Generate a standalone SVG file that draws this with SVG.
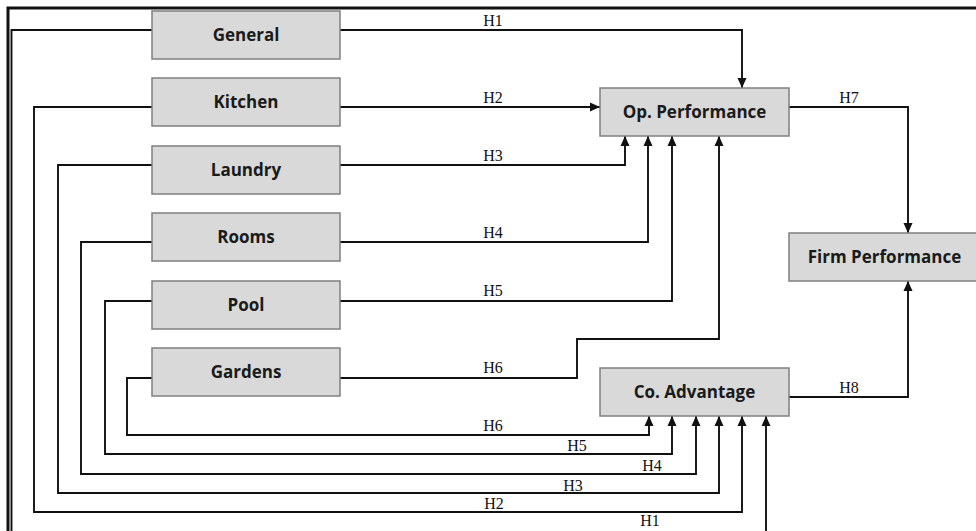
<svg xmlns="http://www.w3.org/2000/svg" width="976" height="531" viewBox="0 0 976 531">
<style>
.node rect{fill:#d9d9d9;stroke:#7f7f7f;stroke-width:1.5}
.node text{font-family:"Open Sans","Liberation Sans",sans-serif;font-weight:bold;font-size:17px;fill:#1a1a1a;text-anchor:middle}
.c{fill:none;stroke:#111;stroke-width:1.9}
.lbl{font-family:"Liberation Serif","Times New Roman",serif;font-size:16px;fill:#111;text-anchor:middle}
</style>
<defs>
<marker id="ah" markerUnits="userSpaceOnUse" markerWidth="11" markerHeight="11" refX="10" refY="5.5" orient="auto" viewBox="0 0 11 11">
<path d="M0,1 L10,5.5 L0,10 z" fill="#111"/>
</marker>
</defs>
<rect width="976" height="531" fill="#fff"/>
<g id="frame" fill="none" stroke="#111" stroke-width="3">
<path d="M8,531 V8 H976"/>
</g>
<g id="connectors">
<path class="c" d="M340,30 H742 V88" marker-end="url(#ah)"/>
<path class="c" d="M340,107 H600" marker-end="url(#ah)"/>
<path class="c" d="M340,165 H625 V136" marker-end="url(#ah)"/>
<path class="c" d="M340,242 H648 V136" marker-end="url(#ah)"/>
<path class="c" d="M340,301 H672 V136" marker-end="url(#ah)"/>
<path class="c" d="M340,378 H577 V339 H719 V136" marker-end="url(#ah)"/>
<path class="c" d="M789,107 H908 V233" marker-end="url(#ah)"/>
<path class="c" d="M789,397 H908 V281" marker-end="url(#ah)"/>
<path class="c" d="M152,30 H11.5 V540 H766 V416" marker-end="url(#ah)"/>
<path class="c" d="M152,107 H34 V512 H742 V416" marker-end="url(#ah)"/>
<path class="c" d="M152,165 H58 V493 H719 V416" marker-end="url(#ah)"/>
<path class="c" d="M152,242 H81 V474 H696 V416" marker-end="url(#ah)"/>
<path class="c" d="M152,301 H105 V454 H672 V416" marker-end="url(#ah)"/>
<path class="c" d="M152,378 H127 V435 H649 V416" marker-end="url(#ah)"/>
<text class="lbl" x="493" y="26">H1</text>
<text class="lbl" x="493" y="103">H2</text>
<text class="lbl" x="493" y="161">H3</text>
<text class="lbl" x="493" y="238">H4</text>
<text class="lbl" x="493" y="296">H5</text>
<text class="lbl" x="493" y="373">H6</text>
<text class="lbl" x="493" y="431">H6</text>
<text class="lbl" x="577" y="451">H5</text>
<text class="lbl" x="652" y="471">H4</text>
<text class="lbl" x="573" y="491">H3</text>
<text class="lbl" x="494" y="509">H2</text>
<text class="lbl" x="650" y="526">H1</text>
<text class="lbl" x="849" y="103">H7</text>
<text class="lbl" x="849" y="393">H8</text>
</g>
<g id="general" class="node"><rect x="152" y="11" width="188" height="48"/><text x="246" y="41">General</text></g>
<g id="kitchen" class="node"><rect x="152" y="78" width="188" height="48"/><text x="246" y="108">Kitchen</text></g>
<g id="laundry" class="node"><rect x="152" y="146" width="188" height="48"/><text x="246" y="176">Laundry</text></g>
<g id="rooms" class="node"><rect x="152" y="213" width="188" height="48"/><text x="246" y="243">Rooms</text></g>
<g id="pool" class="node"><rect x="152" y="281" width="188" height="48"/><text x="246" y="311">Pool</text></g>
<g id="gardens" class="node"><rect x="152" y="348" width="188" height="48"/><text x="246" y="378">Gardens</text></g>
<g id="op-performance" class="node"><rect x="600" y="88" width="189" height="48"/><text x="694.5" y="118">Op. Performance</text></g>
<g id="firm-performance" class="node"><rect x="789" y="233" width="191" height="48"/><text x="884.5" y="263">Firm Performance</text></g>
<g id="co-advantage" class="node"><rect x="600" y="368" width="189" height="48"/><text x="694.5" y="398">Co. Advantage</text></g>
</svg>
